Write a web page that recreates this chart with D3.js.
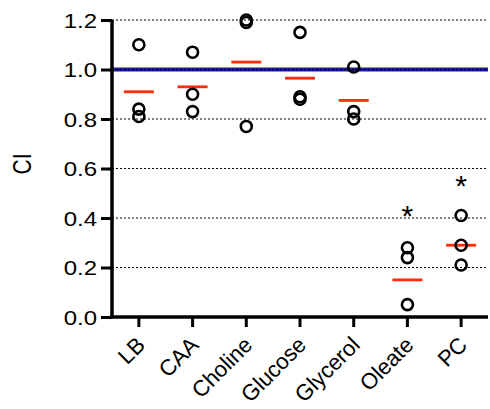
<!DOCTYPE html>
<meta charset="utf-8">
<style>
body { margin: 0; background: #fff; }
text { font-family: Arial, "Liberation Sans", sans-serif; fill: #000; }
</style>
<body>
<script src="https://d3js.org/d3.v7.min.js"></script>
<script>

var categories = ["LB", "CAA", "Choline", "Glucose", "Glycerol", "Oleate", "PC"];
var points = [
  [1.10, 0.84, 0.81],
  [1.07, 0.90, 0.83],
  [1.20, 1.19, 0.77],
  [1.15, 0.89, 0.88],
  [1.01, 0.83, 0.80],
  [0.28, 0.24, 0.05],
  [0.41, 0.29, 0.21]
];
var means = [0.91, 0.93, 1.03, 0.965, 0.875, 0.15, 0.29];
var stars = [null, null, null, null, null, 0.43, 0.55];
var yTicks = [0, 0.2, 0.4, 0.6, 0.8, 1.0, 1.2];

var width = 490, height = 409;
var plotLeft = 112, plotRight = 488, plotTop = 20, plotBottom = 317;
// the source figure's text looks horizontally stretched
var stretch = "scale(1.2,1)";

var svg = d3.select("body").append("svg")
    .attr("width", width)
    .attr("height", height);

var x = d3.scaleBand().domain(categories).range([plotLeft, plotRight]);
var y = d3.scaleLinear().domain([0, 1.2]).range([plotBottom, plotTop]);

// dotted grid
svg.append("g")
  .selectAll("line")
  .data(yTicks.filter(function(d) { return d > 0; }))
  .join("line")
    .attr("x1", plotLeft).attr("x2", plotRight)
    .attr("y1", function(d) { return y(d); })
    .attr("y2", function(d) { return y(d); })
    .attr("stroke", "#000")
    .attr("stroke-width", 1)
    .attr("stroke-dasharray", "2,2");

// reference line at 1
svg.append("line")
    .attr("x1", plotLeft).attr("x2", plotRight)
    .attr("y1", y(1)).attr("y2", y(1))
    .attr("stroke", "#1a1a8f")
    .attr("stroke-width", 4);
svg.append("line")
    .attr("x1", plotLeft).attr("x2", plotRight)
    .attr("y1", y(1)).attr("y2", y(1))
    .attr("stroke", "#000")
    .attr("stroke-width", 1)
    .attr("stroke-dasharray", "2,2");

// Y axis
var yAxis = svg.append("g")
    .attr("transform", "translate(" + plotLeft + ",0)")
    .call(d3.axisLeft(y).tickValues(yTicks).tickFormat(d3.format(".1f")).tickSize(11));
yAxis.select(".domain").attr("stroke-width", 3.5).attr("d", "M0," + (plotBottom + 1.5) + "V" + plotTop);
yAxis.selectAll(".tick line").attr("stroke-width", 3);
yAxis.selectAll(".tick text")
    .style("font-size", "20px")
    .attr("x", 0)
    .attr("dy", "0.36em")
    .attr("transform", "translate(-15,0) " + stretch);

// X axis
var xAxis = svg.append("g")
    .attr("transform", "translate(0," + plotBottom + ")")
    .call(d3.axisBottom(x).tickSize(10).tickSizeOuter(0));
xAxis.select(".domain").attr("stroke-width", 3.5).attr("d", "M" + (plotLeft - 1.5) + ",0H" + plotRight);
xAxis.selectAll(".tick line").attr("stroke-width", 3);
xAxis.selectAll(".tick text")
    .style("font-size", "20px")
    .attr("text-anchor", "end")
    .attr("dy", null)
    .attr("x", 0).attr("y", 0)
    .attr("transform", "translate(-4,18) rotate(-45) scale(1.1,1.12)")
    .attr("dominant-baseline", "hanging");

// Y label
svg.append("text")
    .attr("transform", "translate(22,164) " + stretch + " rotate(-90)")
    .attr("text-anchor", "middle")
    .attr("dominant-baseline", "central")
    .style("font-size", "21px")
    .text("CI");

// means
svg.append("g")
  .selectAll("line")
  .data(means)
  .join("line")
    .attr("x1", function(d, i) { return x(categories[i]) + x.bandwidth() / 2 - 15; })
    .attr("x2", function(d, i) { return x(categories[i]) + x.bandwidth() / 2 + 15; })
    .attr("y1", function(d) { return y(d); })
    .attr("y2", function(d) { return y(d); })
    .attr("stroke", "#ff2a0a")
    .attr("stroke-width", 2.8);

// points
var flat = [];
points.forEach(function(arr, i) {
  arr.forEach(function(v) { flat.push({cat: categories[i], v: v}); });
});
svg.append("g")
  .selectAll("circle")
  .data(flat)
  .join("circle")
    .attr("cx", function(d) { return x(d.cat) + x.bandwidth() / 2; })
    .attr("cy", function(d) { return y(d.v); })
    .attr("r", 5.5)
    .attr("fill", "none")
    .attr("stroke", "#000")
    .attr("stroke-width", 2.6);

// significance stars
svg.append("g")
  .selectAll("text")
  .data(stars.map(function(s, i) { return {cat: categories[i], v: s}; }).filter(function(d) { return d.v !== null; }))
  .join("text")
    .attr("x", function(d) { return x(d.cat) + x.bandwidth() / 2; })
    .attr("y", function(d) { return y(d.v) + 15; })
    .attr("text-anchor", "middle")
    .style("font-size", "30px")
    .text("*");

</script>
</body>
</html>
